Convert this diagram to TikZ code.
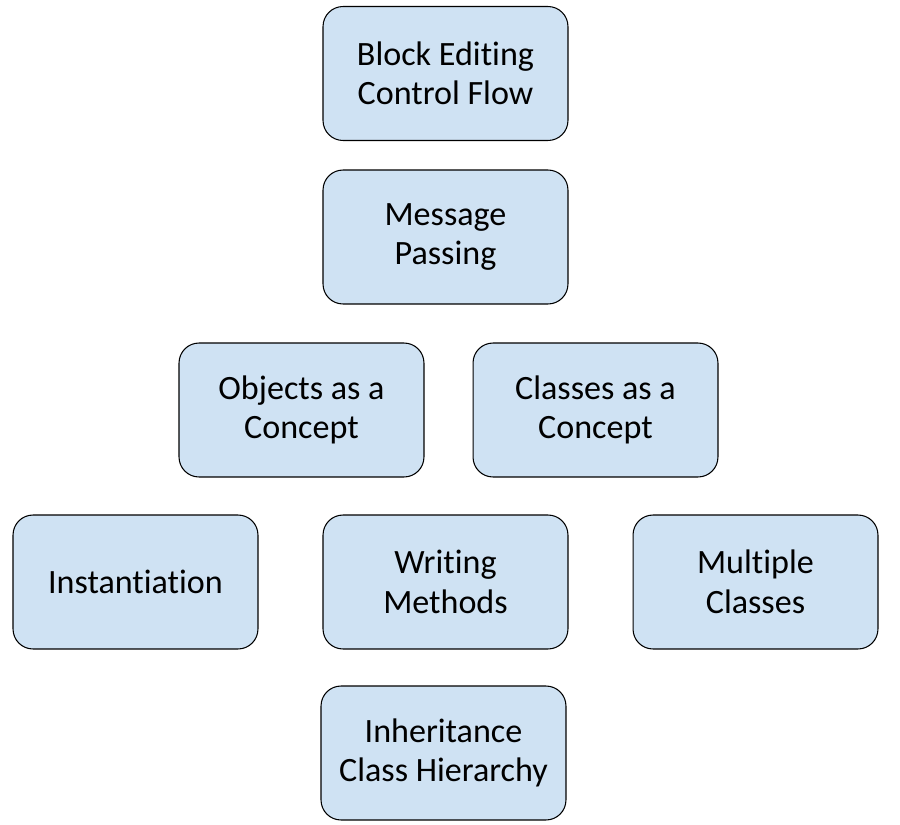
\documentclass[tikz,border=0pt]{standalone}
\usepackage{fontspec}
\setmainfont[Ligatures=NoCommon]{Carlito}
\usepackage{tikz}
\definecolor{boxblue}{HTML}{CFE2F3}

\tikzset{
  topic/.style={draw=black, fill=boxblue, rounded corners=0.4cm, line width=0.6pt,
    minimum width=4.9cm, minimum height=2.68cm, align=center,
    font=\fontsize{19.4}{22.5}\selectfont, inner sep=0pt}
}

\begin{document}
\begin{tikzpicture}[x=0.02cm, y=-0.02cm]
  \useasboundingbox (0, 0) rectangle (900, 825);
  \node[topic] (block)    at (445.5, 73.5) {Block Editing\\Control Flow};
  \node[topic] (message)  at (445.5, 237)  {Message\\Passing};
  \node[topic] (objects)  at (301.5, 410)  {Objects as a\\Concept};
  \node[topic] (classes)  at (595.5, 410)  {Classes as a\\Concept};
  \node[topic] (inst)     at (135.5, 582)  {Instantiation};
  \node[topic] (writing)  at (445.5, 582)  {Writing\\Methods};
  \node[topic] (multiple) at (755.5, 582)  {Multiple\\Classes};
  \node[topic] (inherit)  at (443.5, 753)  {Inheritance\\Class Hierarchy};
\end{tikzpicture}
\end{document}
